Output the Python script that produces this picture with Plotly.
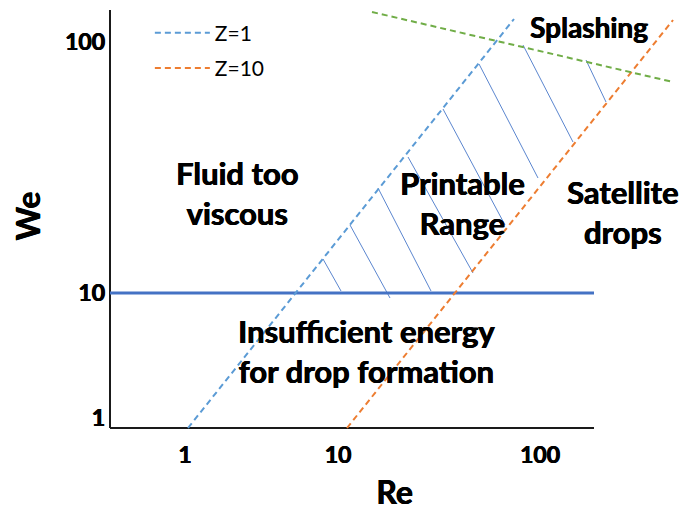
import plotly.graph_objects as go

# ---- schematic data (axis units: schematic positions along Re / We axes) ----
re_tick_pos = [75, 228, 430]
re_tick_labels = ["1", "10", "100"]
we_tick_pos = [10, 135, 386]
we_tick_labels = ["1", "10", "100"]

z1_re = [78, 404]
z1_we = [0, 409]
z10_re = [237, 563]
z10_we = [0, 408]
splash_re = [262, 563]
splash_we = [416, 346]
we10_re = [0, 484]
we10_we = [135, 135]

axis_re = [0, 0, None, 0, 484]
axis_we = [418, 0, None, 0, 0]

hatch_re0 = [213, 240, 268, 298, 333, 369, 413, 476]
hatch_we0 = [169, 203, 240, 271, 319, 364, 383, 368]
hatch_re1 = [231, 280, 321, 363, 395, 428, 463, 496]
hatch_we1 = [137, 130, 137, 155, 203, 250, 286, 326]

region_labels = ["Fluid too<br>viscous", "Printable<br>Range", "Satellite<br>drops",
                 "Splashing", "Insufficient energy<br>for drop formation"]
region_re = [127, 352, 513, 479, 256]
region_we = [235, 225, 216, 401, 77]
region_size = [31, 31, 31, 28, 31]

FONT = "Lato, 'Open Sans', sans-serif"
HEAVY = "0.5px 0px 0px black, -0.3px 0px 0px black"

fig = go.Figure()

# hatching
hx, hy = [], []
for a, b, c, d in zip(hatch_re0, hatch_we0, hatch_re1, hatch_we1):
    hx += [a, c, None]
    hy += [b, d, None]
fig.add_trace(go.Scatter(x=hx, y=hy, mode="lines", showlegend=False, hoverinfo="skip",
                         line=dict(color="#5B86CF", width=1)))

fig.add_trace(go.Scatter(x=axis_re, y=axis_we, mode="lines", showlegend=False, hoverinfo="skip",
                         line=dict(color="#1a1a1a", width=2)))
fig.add_trace(go.Scatter(x=we10_re, y=we10_we, mode="lines", showlegend=False,
                         line=dict(color="#4472C4", width=3)))
fig.add_trace(go.Scatter(x=z1_re, y=z1_we, mode="lines", name="Z=1", legendgroup="a",
                         line=dict(color="#5B9BD5", width=2, dash="6px,4px")))
fig.add_trace(go.Scatter(x=z10_re, y=z10_we, mode="lines", name="Z=10", legendgroup="b",
                         line=dict(color="#ED7D31", width=2, dash="6px,4px")))
fig.add_trace(go.Scatter(x=splash_re, y=splash_we, mode="lines", showlegend=False,
                         line=dict(color="#70AD47", width=2, dash="6px,4px")))

for t, x, y, s in zip(region_labels, region_re, region_we, region_size):
    fig.add_annotation(x=x, y=y, text=t, showarrow=False,
                       xanchor="center", yanchor="middle",
                       font=dict(family=FONT, size=s, color="black", weight="bold",
                                 shadow=HEAVY))

fig.update_layout(
    width=683, height=511,
    margin=dict(l=106, r=0, t=0, b=79),
    plot_bgcolor="white", paper_bgcolor="white",
    font=dict(family=FONT, color="black"),
    legend=dict(x=0.076, y=0.971, xanchor="left", yanchor="top", itemwidth=55,
                bgcolor="rgba(0,0,0,0)", font=dict(family=FONT, size=21, color="black"),
                tracegroupgap=5),
    xaxis=dict(range=[-4, 573], showgrid=False, zeroline=False, showline=False,
               tickvals=re_tick_pos, ticktext=re_tick_labels, ticklabelstandoff=7,
               tickfont=dict(family=FONT, size=23, color="black", weight="bold", shadow=HEAVY),
               title=dict(text="Re", font=dict(family=FONT, size=32, color="black",
                                               weight="bold", shadow=HEAVY),
                          standoff=16)),
    yaxis=dict(range=[-4, 428], showgrid=False, zeroline=False, showline=False,
               tickvals=we_tick_pos, ticktext=we_tick_labels,
               tickfont=dict(family=FONT, size=23, color="black", weight="bold", shadow=HEAVY),
               title=dict(text="We", font=dict(family=FONT, size=32, color="black",
                                               weight="bold", shadow=HEAVY),
                          standoff=14)),
)

fig.write_html("out.html")
